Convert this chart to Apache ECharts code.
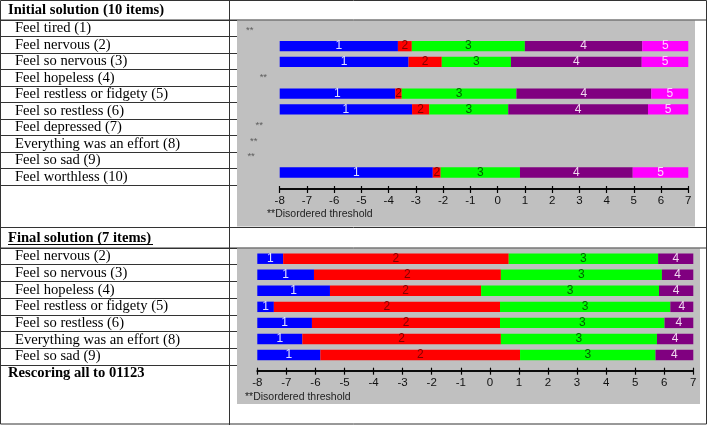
<!DOCTYPE html>
<html><head><meta charset="utf-8">
<script src="https://cdn.jsdelivr.net/npm/echarts@6/dist/echarts.min.js"></script>
<style>html,body{margin:0;padding:0;background:#fff}#c{width:708px;height:425px}</style>
</head><body><div id="c"></div><script>
// ---------- data ----------
const initialItems = ['Feel tired (1)','Feel nervous (2)','Feel so nervous (3)','Feel hopeless (4)','Feel restless or fidgety (5)','Feel so restless (6)','Feel depressed (7)','Everything was an effort (8)','Feel so sad (9)','Feel worthless (10)'];
const initT1 = [null,-3.66,-3.27,null,-3.76,-3.14,null,null,null,-2.38];
const initT2 = [null,-3.15,-2.05,null,-3.52,-2.51,null,null,null,-2.09];
const initT3 = [null, 1.00, 0.49,null, 0.69, 0.39,null,null,null, 0.82];
const initT4 = [null, 5.31, 5.29,null, 5.64, 5.52,null,null,null, 4.96];
const initDisordered = [-9.1,null,null,-8.6,null,null,-8.75,-8.95,-9.05,null];
const finalItems = ['Feel nervous (2)','Feel so nervous (3)','Feel hopeless (4)','Feel restless or fidgety (5)','Feel so restless (6)','Everything was an effort (8)','Feel so sad (9)'];
const finalT1 = [-7.11,-6.05,-5.50,-7.43,-6.12,-6.45,-5.83];
const finalT2 = [ 0.65, 0.38,-0.30, 0.35, 0.35, 0.38, 1.04];
const finalT3 = [ 5.79, 5.92, 5.82, 6.21, 6.01, 5.75, 5.70];
const initCategories = ['1','2','3','4','5'];
const finalCategories = ['1','2','3','4'];
const axisMin = -8, axisMax = 7;

// ---------- styles ----------
const segColors = ['#0000FF','#FF0000','#00FF00','#800080','#FF00FF'];
const segLabelColors = ['#E0E0FF','#800000','#006400','#F0D8F0','#FFD0FF'];
const serif = '"Liberation Serif","Times New Roman",serif';
const sans = '"Liberation Sans",Arial,sans-serif';

function buildSegments(thresholds, nCats) {
  const out = []; for (let k = 0; k < nCats; k++) out.push([]);
  const rows = thresholds[0].length;
  for (let r = 0; r < rows; r++) {
    if (thresholds[0][r] == null) continue;
    const b = [axisMin].concat(thresholds.map(t => t[r])).concat([axisMax]);
    for (let k = 0; k < nCats; k++) out[k].push([b[k], b[k+1], r]);
  }
  return out;
}
function segSeries(segs, cats, xi, yi) {
  return segs.map((data, k) => ({
    type: 'custom', name: cats[k], xAxisIndex: xi, yAxisIndex: yi, data: data, z: 5,
    renderItem: (params, api) => {
      const a = api.coord([api.value(0), api.value(2)]);
      const b = api.coord([api.value(1), api.value(2)]);
      const h = api.size([0, 1])[1] * 0.65;
      return {
        type: 'rect',
        shape: { x: a[0], y: a[1] - h / 2, width: b[0] - a[0], height: h },
        style: { fill: segColors[k] },
        textContent: { style: { text: cats[k], fill: segLabelColors[k], font: '12px ' + sans } },
        textConfig: { position: 'inside' }
      };
    }
  }));
}
const initSegs = buildSegments([initT1, initT2, initT3, initT4], 5);
const finalSegs = buildSegments([finalT1, finalT2, finalT3], 4);

function numAxis(grid, offset, inside, labels) {
  return {
    type: 'value', gridIndex: grid, min: axisMin, max: axisMax, interval: 1, position: 'bottom', offset: offset,
    axisLine: { show: true, lineStyle: { color: '#000', width: 1.6 } },
    axisTick: { show: true, inside: inside, length: inside ? 3 : 4, lineStyle: { color: '#000', width: 1.2 } },
    axisLabel: { show: labels, margin: 6, color: '#111', fontFamily: sans, fontSize: 11.5 },
    splitLine: { show: false }
  };
}
function tableAxis(grid, items) {
  return {
    type: 'category', gridIndex: grid, data: items, inverse: true,
    axisLine: { show: false }, axisTick: { show: false },
    axisLabel: { show: true, inside: true, margin: 15, interval: 0, color: '#000', fontFamily: serif, fontSize: 14.6 },
    splitLine: { show: true, interval: 0, lineStyle: { color: '#333', width: 1 } }
  };
}

const chart = echarts.init(document.getElementById('c'), null, { renderer: 'canvas' });
chart.setOption({
  animation: false,
  grid: [
    { left: 279.7, top: 22.5, width: 408.6, height: 157.9 },
    { left: 257.3, top: 250.7, width: 436, height: 112.3 },
    { left: 0, top: 20, width: 237, height: 165 },
    { left: 0, top: 248, width: 237, height: 117 }
  ],
  xAxis: [
    numAxis(0, 8.6, false, true), numAxis(0, 8.6, true, false),
    numAxis(1, 7.7, false, true), numAxis(1, 7.7, true, false),
    { type: 'value', gridIndex: 2, min: 0, max: 1, show: false },
    { type: 'value', gridIndex: 3, min: 0, max: 1, show: false }
  ],
  yAxis: [
    { type: 'category', gridIndex: 0, data: initialItems, inverse: true, show: false },
    { type: 'category', gridIndex: 1, data: finalItems, inverse: true, show: false },
    tableAxis(2, initialItems),
    tableAxis(3, finalItems)
  ],
  series: segSeries(initSegs, initCategories, 0, 0)
    .concat(segSeries(finalSegs, finalCategories, 2, 1))
    .concat([{
      type: 'scatter', xAxisIndex: 0, yAxisIndex: 0, clip: false, symbolSize: 1,
      itemStyle: { color: 'rgba(0,0,0,0)' },
      data: initDisordered.map((v, r) => v == null ? null : [v, r]).filter(d => d),
      label: { show: true, position: 'inside', formatter: '**', color: '#444', fontSize: 9.5, fontFamily: sans }
    }]),
  graphic: [
    { type: 'rect', z: -10, shape: { x: 237, y: 20.5, width: 458, height: 206 }, style: { fill: '#C0C0C0' } },
    { type: 'rect', z: -10, shape: { x: 237, y: 248.5, width: 463, height: 155.5 }, style: { fill: '#C0C0C0' } },
    { type: 'rect', z: 20, shape: { x: 0.5, y: 0.5, width: 706, height: 423.5 }, style: { fill: null, stroke: '#333', lineWidth: 1 } },
    { type: 'line', z: 20, shape: { x1: 229.5, y1: 0, x2: 229.5, y2: 425 }, style: { stroke: '#333', lineWidth: 1 } },
    { type: 'line', z: 20, shape: { x1: 0, y1: 20, x2: 707, y2: 20 }, style: { stroke: '#333', lineWidth: 1 } },
    { type: 'line', z: 20, shape: { x1: 0, y1: 227.5, x2: 707, y2: 227.5 }, style: { stroke: '#333', lineWidth: 1 } },
    { type: 'line', z: 20, shape: { x1: 0, y1: 248, x2: 707, y2: 248 }, style: { stroke: '#333', lineWidth: 1 } },
    { type: 'text', z: 20, x: 8, y: 10.5, style: { text: 'Initial solution (10 items)', font: 'bold 14.6px ' + serif, fill: '#000', textVerticalAlign: 'middle' } },
    { type: 'text', z: 20, x: 8, y: 238, style: { text: 'Final solution (7 items)', font: 'bold 14.6px ' + serif, fill: '#000', textVerticalAlign: 'middle' } },
    { type: 'line', z: 20, shape: { x1: 8, y1: 244.5, x2: 153, y2: 244.5 }, style: { stroke: '#000', lineWidth: 1 } },
    { type: 'text', z: 20, x: 8, y: 373, style: { text: 'Rescoring all to 01123', font: 'bold 14.6px ' + serif, fill: '#000', textVerticalAlign: 'middle' } },
    { type: 'text', z: 20, x: 267, y: 214, style: { text: '**Disordered threshold', font: '10.5px ' + sans, fill: '#222', textVerticalAlign: 'middle' } },
    { type: 'text', z: 20, x: 245, y: 397, style: { text: '**Disordered threshold', font: '10.5px ' + sans, fill: '#222', textVerticalAlign: 'middle' } }
  ]
});
</script></body></html>
